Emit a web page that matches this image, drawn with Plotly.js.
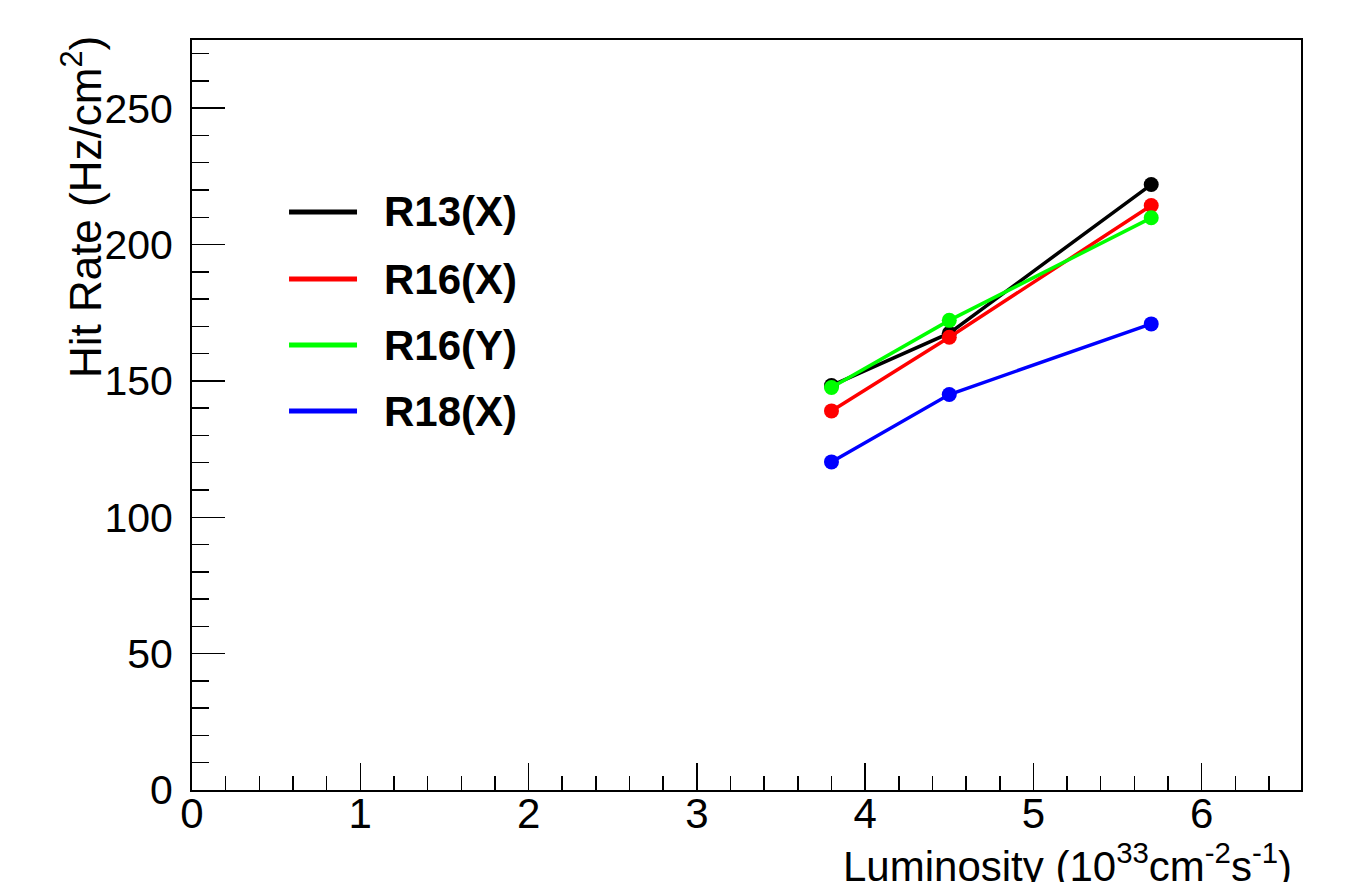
<!DOCTYPE html>
<html>
<head>
<meta charset="utf-8">
<script src="https://cdn.plot.ly/plotly-3.0.1.min.js"></script>
<style>html,body{margin:0;padding:0;background:#fff;}#chart{width:1369px;height:882px;}</style>
</head>
<body>
<div id="chart"></div>
<script>
// Data
const luminosity = [3.8, 4.5, 5.7];
const seriesNames = ["R13(X)", "R16(X)", "R16(Y)", "R18(X)"];
const seriesColors = ["#000000", "#ff0000", "#00ff00", "#0000ff"];
const r13x = [148.3, 167.5, 222.0];
const r16x = [139.0, 166.0, 214.3];
const r16y = [147.6, 172.2, 209.8];
const r18x = [120.3, 145.0, 170.9];
const seriesValues = [r13x, r16x, r16y, r18x];
const xTickVals = [0, 1, 2, 3, 4, 5, 6];
const yTickVals = [0, 50, 100, 150, 200, 250];

const font = "Liberation Sans, Arial, Helvetica, sans-serif";

const traces = seriesNames.map((n, i) => ({
  x: luminosity,
  y: seriesValues[i],
  type: "scatter",
  mode: "lines+markers",
  name: n,
  line: {color: seriesColors[i], width: 3.5},
  marker: {color: seriesColors[i], size: 15},
  showlegend: false,
  hoverinfo: "skip"
}));

// custom ROOT-style legend
const legY = [0.7707, 0.6813, 0.5933, 0.5053];
const shapes = [];
const annotations = [];
seriesNames.forEach((n, i) => {
  shapes.push({type: "line", xref: "paper", yref: "paper",
    x0: 0.0875, x1: 0.1488, y0: legY[i], y1: legY[i],
    line: {color: seriesColors[i], width: 5}});
  annotations.push({xref: "paper", yref: "paper", x: 0.1715, y: legY[i],
    xanchor: "left", yanchor: "middle", showarrow: false,
    text: "<b>" + n + "</b>", font: {family: font, size: 42, color: "#000"}});
});

annotations.push({
  xref: "paper", yref: "paper", x: -0.1, y: 1.008,
  xanchor: "center", yanchor: "top", textangle: -90, showarrow: false,
  text: "Hit Rate (Hz/cm<sup>2</sup>)", font: {family: font, size: 44, color: "#000"}
});
annotations.push({
  xref: "paper", yref: "paper", x: 0.994, y: -0.058,
  xanchor: "right", yanchor: "top", showarrow: false,
  text: "Luminosity (10<sup>33</sup>cm<sup>-2</sup>s<sup>-1</sup>)", font: {family: font, size: 42, color: "#000"}
});

const layout = {
  width: 1369, height: 882,
  margin: {l: 192, r: 68, t: 40, b: 92, pad: 0},
  paper_bgcolor: "#fff", plot_bgcolor: "#fff",
  showlegend: false,
  font: {family: font, color: "#000"},
  xaxis: {
    range: [0, 6.59], tickvals: xTickVals, ticktext: xTickVals.map(String),
    ticks: "inside", ticklen: 27, tickwidth: 1.5, tickcolor: "#000",
    minor: {dtick: 0.2, tick0: 0, ticks: "inside", ticklen: 14, tickwidth: 1.5, tickcolor: "#000", showgrid: false},
    showline: true, linecolor: "#000", linewidth: 2, mirror: true,
    showgrid: false, zeroline: false, ticklabelstandoff: -14,
    tickfont: {family: font, size: 42, color: "#000"}
  },
  yaxis: {
    range: [0, 275], tickvals: yTickVals, ticktext: yTickVals.map(String),
    ticks: "inside", ticklen: 33, tickwidth: 1.5, tickcolor: "#000",
    minor: {dtick: 10, tick0: 0, ticks: "inside", ticklen: 17, tickwidth: 1.5, tickcolor: "#000", showgrid: false},
    showline: true, linecolor: "#000", linewidth: 2, mirror: true,
    showgrid: false, zeroline: false, ticklabelstandoff: 9,
    tickfont: {family: font, size: 41, color: "#000"}
  },
  shapes: shapes,
  annotations: annotations
};

Plotly.newPlot("chart", traces, layout, {staticPlot: true, displayModeBar: false});
</script>
</body>
</html>
